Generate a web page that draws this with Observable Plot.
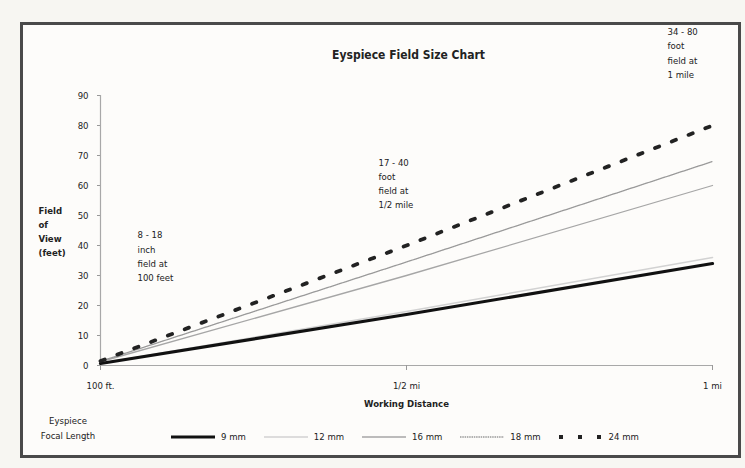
<!DOCTYPE html>
<html><head><meta charset="utf-8">
<script src="https://cdn.jsdelivr.net/npm/d3@7"></script>
<script src="https://cdn.jsdelivr.net/npm/@observablehq/plot@0.6"></script>
<style>
body{margin:0;background:#f7f6f2;}
#wrap{position:relative;width:745px;height:468px;background:#f7f6f2;font-family:"Liberation Sans Narrow","Arial Narrow","DejaVu Sans Condensed",sans-serif;color:#222;overflow:hidden;}
#frame{position:absolute;left:20px;top:22px;width:721px;height:436px;box-sizing:border-box;border:3px solid #4a4a4a;background:#fdfcfa;}
#chart{position:absolute;left:0;top:0;}
#legtitle{position:absolute;left:28px;top:413px;width:80px;text-align:center;font-size:9.5px;line-height:15px;}
#legend{position:absolute;left:171px;top:429px;display:flex;align-items:center;height:15px;font-size:9.5px;}
.item{display:flex;align-items:center;margin-right:18px;}
.item span{margin-left:6px;}
</style>
</head><body>
<div id="wrap"><div id="frame"></div><div id="chart"></div>
<div id="legtitle">Eyspiece<br>Focal Length</div>
<div id="legend"></div></div>
<script>
const distances = ["100 ft.", "1/2 mi", "1 mi"];
const focalLengths = ["9 mm", "12 mm", "16 mm", "18 mm", "24 mm"];
const fov9 = [0.67, 17, 34];
const fov12 = [0.75, 18, 36];
const fov16 = [1.25, 30, 60];
const fov18 = [1.4, 34.5, 68];
const fov24 = [1.5, 40, 80];
const yTicks = [0, 10, 20, 30, 40, 50, 60, 70, 80, 90];
const titleText = "Eyspiece Field Size Chart";
const yLabel = "Field\nof\nView\n(feet)";
const xLabel = "Working Distance";
const notes = ["8 - 18\ninch\nfield at\n100 feet", "17 - 40\nfoot\nfield at\n1/2 mile", "34 - 80\nfoot\nfield at\n1 mile"];

const values = {"9 mm": fov9, "12 mm": fov12, "16 mm": fov16, "18 mm": fov18, "24 mm": fov24};
const rows = focalLengths.flatMap(s => distances.map((d, i) => ({series: s, dist: d, fov: values[s][i]})));

const styles = {
  "9 mm": {stroke: "#111", strokeWidth: 3.2},
  "12 mm": {stroke: "#d2d2d2", strokeWidth: 1.5},
  "16 mm": {stroke: "#a6a6a6", strokeWidth: 1.3},
  "18 mm": {stroke: "#999", strokeWidth: 1.3, strokeDasharray: "1.5,0.8"},
  "24 mm": {stroke: "#222", strokeWidth: 3.8, strokeDasharray: "4.5,13.5"}
};
const drawOrder = ["12 mm", "16 mm", "18 mm", "9 mm", "24 mm"];
const font = "'Liberation Sans Narrow','Arial Narrow','DejaVu Sans Condensed',sans-serif";

const plot = Plot.plot({
  width: 745, height: 415,
  marginTop: 95, marginBottom: 50, marginLeft: 100, marginRight: 33,
  style: {fontFamily: font, fontSize: "9.5px", color: "#222", background: "transparent", overflow: "visible"},
  x: {type: "point", domain: distances, padding: 0},
  y: {domain: [0, 90]},
  marks: [
    Plot.ruleX([distances[0]], {y1: 0, y2: 90, stroke: "#a8a8a8", strokeWidth: 1.2}),
    Plot.ruleY([0], {stroke: "#a8a8a8", strokeWidth: 1.2}),
    Plot.axisY({ticks: yTicks, tickSize: 3, tickPadding: 9, label: null, stroke: "#999", fill: "#222", fontSize: 9.5}),
    Plot.axisX({tickSize: 5, tickPadding: 12, label: null, stroke: "#999", fill: "#222", fontSize: 9.5}),
    ...drawOrder.map(s => Plot.line(rows.filter(r => r.series === s), {x: "dist", y: "fov", ...styles[s]})),
    Plot.text([titleText], {frameAnchor: "top", dy: -45, dx: 2, fontWeight: "bold", fontSize: 12}),
    Plot.text([yLabel], {frameAnchor: "left", dx: -62, textAnchor: "start", fontWeight: "bold", lineHeight: 1.5, fontSize: 9.5}),
    Plot.text([xLabel], {frameAnchor: "bottom", dy: 41, fontWeight: "bold", fontSize: 9.5}),
    Plot.text([notes[0]], {x: () => distances[0], y: () => 36.8, dx: 37, textAnchor: "start", lineHeight: 1.5, fontSize: 9.5}),
    Plot.text([notes[1]], {x: () => distances[1], y: () => 61, dx: -28, textAnchor: "start", lineHeight: 1.5, fontSize: 9.5}),
    Plot.text([notes[2]], {x: () => distances[2], y: () => 104.5, dx: -45, textAnchor: "start", lineHeight: 1.5, fontSize: 9.5})
  ]
});
document.getElementById("chart").appendChild(plot);

const legend = d3.select("#legend");
for (const s of focalLengths) {
  const st = styles[s];
  const item = legend.append("div").attr("class", "item");
  const svg = item.append("svg").attr("width", 44).attr("height", 10);
  svg.append("line").attr("x1", 0).attr("x2", 44).attr("y1", 5).attr("y2", 5)
    .attr("stroke", st.stroke).attr("stroke-width", st.strokeWidth)
    .attr("stroke-dasharray", s === "24 mm" ? "4,15" : (st.strokeDasharray || null));
  item.append("span").text(s);
}
</script>
</body></html>
